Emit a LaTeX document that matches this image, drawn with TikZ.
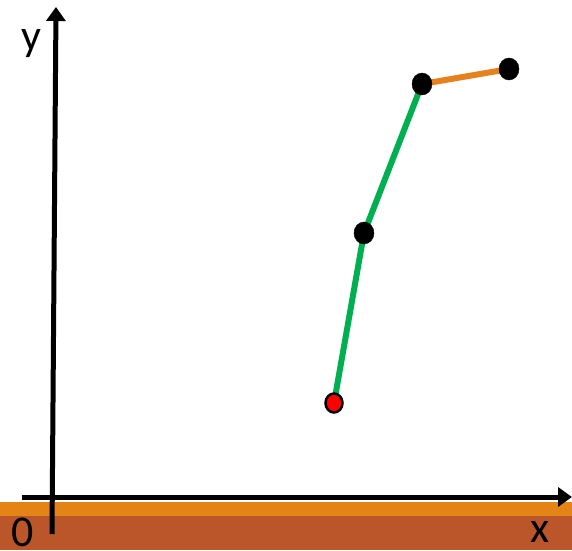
\documentclass[tikz,border=0pt]{standalone}
\usepackage{fontspec}
\setmainfont{Carlito}
\usetikzlibrary{arrows.meta,shapes.geometric}
\definecolor{stripor}{RGB}{228,131,22}
\definecolor{stripbr}{RGB}{186,86,42}
\definecolor{segg}{RGB}{0,176,80}
\definecolor{sego}{RGB}{230,130,30}
\tikzset{
  axis/.style={line width=5pt,-{Triangle[length=14pt,width=19pt]}},
  seg/.style={line width=6pt},
  blackdot/.style={ellipse,draw=black,fill=black,minimum width=20pt,minimum height=22pt,inner sep=0pt},
  reddot/.style={ellipse,draw=black,line width=2.5pt,fill=red,minimum width=17pt,minimum height=19pt,inner sep=0pt},
  lbl/.style={font=\fontsize{44}{44}\selectfont,inner sep=0pt}
}
\begin{document}
\begin{tikzpicture}[x=1pt,y=-1pt]
\useasboundingbox (0,0) rectangle (572,550);
\fill[stripor] (0,502) rectangle (572,517);
\fill[stripbr] (0,516) rectangle (572,550);
\coordinate (xs) at (22,497);
\coordinate (xe) at (572,497);
\coordinate (ys) at (52,534);
\coordinate (ye) at (56,7);
\draw[axis] (xs) -- (xe);
\draw[axis] (ys) -- (ye);
\node[lbl] (ylab) at (31,44) {y};
\node[lbl] (zero) at (23,532) {0};
\node[lbl] (xlab) at (540,532) {x};
\coordinate (p0) at (334,403);
\coordinate (p1) at (364,233);
\coordinate (p2) at (422,84);
\coordinate (p3) at (509,69);
\draw[seg,segg,line join=round] (p0) -- (p1) -- (p2);
\draw[seg,sego] (p2) -- (p3);
\node[reddot] (d0) at (p0) {};
\node[blackdot] (d1) at (p1) {};
\node[blackdot] (d2) at (p2) {};
\node[blackdot] (d3) at (p3) {};
\end{tikzpicture}
\end{document}
